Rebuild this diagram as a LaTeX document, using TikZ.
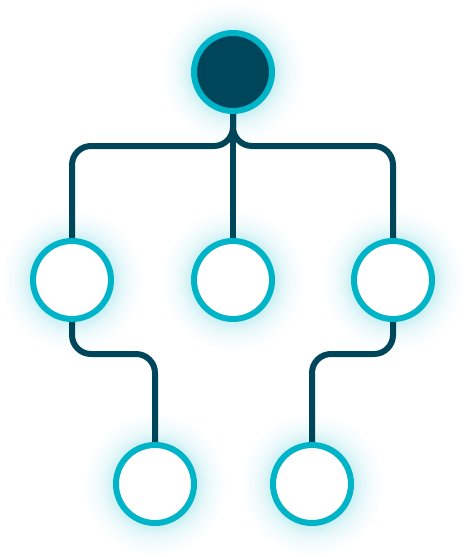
\documentclass[tikz,border=0pt]{standalone}
\usetikzlibrary{positioning}

\definecolor{navy}{RGB}{0,70,91}
\definecolor{aqua}{RGB}{0,180,200}
\colorlet{halo}{aqua!22}
\colorlet{halomid}{aqua!10}
\colorlet{halofar}{aqua!4}
\pgfdeclareradialshading{haloshade}{\pgfpoint{0bp}{0bp}}%
  {color(0bp)=(halo); color(14bp)=(halo); color(17.5bp)=(halomid);
   color(21bp)=(halofar); color(25bp)=(white); color(50bp)=(white)}
\pgfdeclarelayer{glow}
\pgfdeclarelayer{background}
\pgfsetlayers{glow,background,main}

\tikzset{
  bubble/.style={circle, draw=aqua, line width=6pt, fill=white,
    minimum size=78pt, inner sep=0pt},
  hub/.style={bubble, fill=navy},
  link/.style={draw=navy, line width=6pt, rounded corners=19pt}
}

\begin{document}
\begin{tikzpicture}[x=1pt,y=-1pt]
  \useasboundingbox (0,0) rectangle (466,557);

  % the circles
  \node [hub] (root) at (233,72) {};
  \node [bubble] (left) at (72,280) {};
  \node [bubble] (mid) at (233,280) {};
  \node [bubble] (right) at (393,280) {};
  \node [bubble] (lowl) at (155,484) {};
  \node [bubble] (lowr) at (312,484) {};

  % bend levels of the connectors
  \coordinate (bus) at (0,146);
  \coordinate (lowbus) at (0,354);

  % soft halo round every circle
  \begin{pgfonlayer}{glow}
    \foreach \n in {root,left,mid,right,lowl,lowr}
      \shade [shading=haloshade] (\n) circle (72pt);
  \end{pgfonlayer}

  % Draw the connectors behind the circles
  \begin{pgfonlayer}{background}
    \draw [link] (root.south) -- (root.south |- bus) -| (left.north);
    \draw [link] (root.south) -- (root.south |- bus) -| (right.north);
    \draw [link] (root.south) -- (mid.north);
    \draw [link] (left.south) -- (left.south |- lowbus) -| (lowl.north);
    \draw [link] (right.south) -- (right.south |- lowbus) -| (lowr.north);
  \end{pgfonlayer}
\end{tikzpicture}
\end{document}
